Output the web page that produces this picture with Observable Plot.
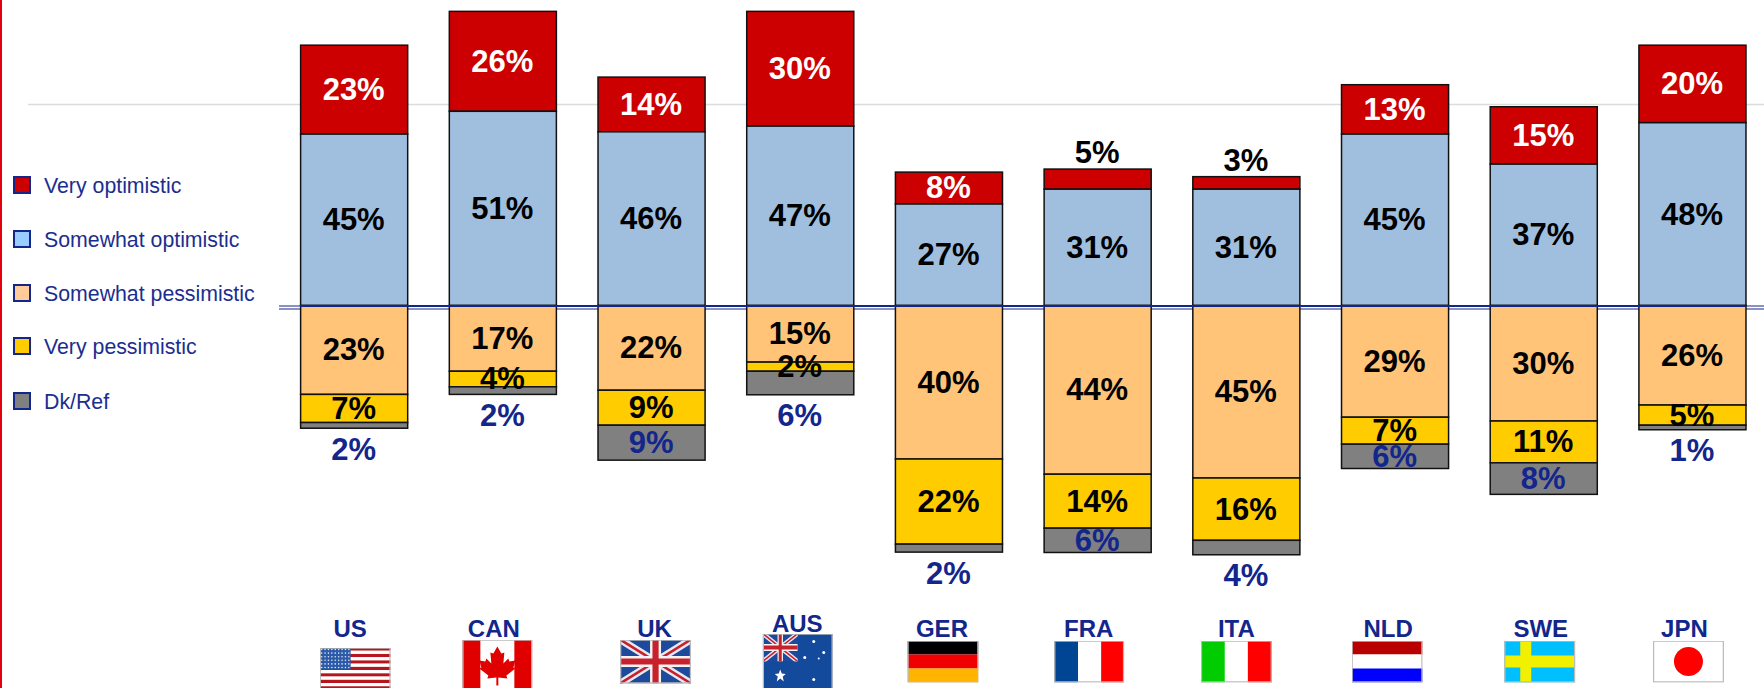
<!DOCTYPE html>
<html>
<head>
<meta charset="utf-8">
<script src="https://cdn.jsdelivr.net/npm/d3@7"></script>
<script src="https://cdn.jsdelivr.net/npm/@observablehq/plot@0.6"></script>
<style>
  html, body { margin: 0; padding: 0; background: #fff; overflow: hidden; }
  #page { position: relative; width: 1764px; height: 688px; overflow: hidden; }
  #page svg { display: block; position: absolute; left: 0; top: 0; }
  #edge { position: absolute; left: 0; top: 0; width: 1.5px; height: 688px; background: #e3000f; }
  .lg { position: absolute; left: 13px; height: 14px; width: 14px; border: 2px solid #12268c; }
  .lt { position: absolute; left: 44px; font: 21.3px "Liberation Sans", Arial, sans-serif; color: #1b2e8f; line-height: 22px; white-space: nowrap; }
</style>
</head>
<body>
<div id="page"><div id="edge"></div></div>
<script>
const countries = ["US", "CAN", "UK", "AUS", "GER", "FRA", "ITA", "NLD", "SWE", "JPN"];
const seriesNames = ["Very optimistic", "Somewhat optimistic", "Somewhat pessimistic", "Very pessimistic", "Dk/Ref"];
const veryOptimistic =      [23.4, 26.3, 14.4, 30.2,  8.4,  5.3,  3.3, 13.0, 15.1, 20.4];
const somewhatOptimistic =  [45.1, 51.1, 45.7, 47.2, 26.7, 30.6, 30.6, 45.1, 37.2, 48.1];
const somewhatPessimistic = [23.4, 17.3, 22.3, 14.9, 40.4, 44.4, 45.4, 29.4, 30.4, 26.2];
const veryPessimistic =     [ 7.4,  4.1,  9.2,  2.4, 22.4, 14.2, 16.4,  7.1, 11.0,  5.3];
const dkRef =               [ 1.5,  2.0,  9.2,  6.2,  2.1,  6.4,  3.8,  6.4,  8.3,  1.2];

// Signed table for the diverging stack
const rows = countries.flatMap((country, i) => [
  {country, series: seriesNames[0], value: veryOptimistic[i]},
  {country, series: seriesNames[1], value: somewhatOptimistic[i]},
  {country, series: seriesNames[2], value: -somewhatPessimistic[i]},
  {country, series: seriesNames[3], value: -veryPessimistic[i]},
  {country, series: seriesNames[4], value: -dkRef[i]}
]);

const NAVY = "#12268c";
const barColors = ["#cc0000", "#a0bfdf", "#ffc477", "#ffcc00", "#808080"];
const swatchColors = ["#cc0000", "#99ccff", "#ffcc99", "#ffcc00", "#808080"];
const stackOrder = [seriesNames[1], seriesNames[0], seriesNames[2], seriesNames[3], seriesNames[4]];
const pct = d => `${Math.round(Math.abs(d.value))}%`;
const FONT = "Liberation Sans, Arial, sans-serif";

const page = document.getElementById("page");

// Flags (decorative pictures)
const svgUri = (w, h, body) => "data:image/svg+xml," + encodeURIComponent(
  `<svg xmlns="http://www.w3.org/2000/svg" viewBox="0 0 ${w} ${h}" width="${w}" height="${h}" preserveAspectRatio="none">${body}<rect x=".5" y=".5" width="${w-1}" height="${h-1}" fill="none" stroke="#bbb" stroke-width="1.5"/></svg>`);
const union = (w, h) => `<rect width="${w}" height="${h}" fill="#1d4a9c"/>
  <path d="M0 0L${w} ${h}M${w} 0L0 ${h}" stroke="#e8e8ee" stroke-width="${h*0.17}"/>
  <path d="M0 0L${w} ${h}M${w} 0L0 ${h}" stroke="#c8202c" stroke-width="${h*0.06}"/>
  <path d="M${w/2} 0V${h}M0 ${h/2}H${w}" stroke="#f4f4f4" stroke-width="${h*0.25}"/>
  <path d="M${w/2} 0V${h}M0 ${h/2}H${w}" stroke="#c8202c" stroke-width="${h*0.14}"/>`;
const flagArt = {
  US: [71, 42, d3.range(13).map(i => `<rect y="${i*3.23}" width="71" height="3.23" fill="${i%2?"#fff":"#b5161e"}"/>`).join("") +
      `<rect width="31" height="22" fill="#2b5aa8"/>` +
      d3.cross(d3.range(9), d3.range(6)).map(([a,b]) => `<circle cx="${2+a*3.4}" cy="${2+b*3.6}" r=".8" fill="#dfe6f5"/>`).join("")],
  CAN: [70, 50, `<rect width="70" height="50" fill="#fff"/><rect width="18" height="50" fill="#e00000"/><rect x="52" width="18" height="50" fill="#e00000"/>
      <path fill="#e00000" d="M35 7l4 7 3-1-1 11 5-5 1 3 6-1-2 7 2 1-9 7 1 3-9-1v8h-2v-8l-9 1 1-3-9-7 2-1-2-7 6 1 1-3 5 5-1-11 3 1z"/>`],
  UK: [71, 44, union(71, 44)],
  AUS: [70, 56, `<rect width="70" height="56" fill="#144a9b"/><svg width="35" height="28" viewBox="0 0 71 44" preserveAspectRatio="none">${union(71,44)}</svg>
      <path fill="#fff" d="M17.5 36l1.5 4 4 .5-3 2.5 1 5-3.500-3-3.500 3 1-5-3-2.500 4-.5z"/>
      <circle cx="51" cy="8" r="1.500" fill="#fff"/><circle cx="61" cy="19" r="1.500" fill="#fff"/><circle cx="42" cy="24" r="1.500" fill="#fff"/><circle cx="51" cy="46" r="1.500" fill="#fff"/><circle cx="56" cy="25" r="1" fill="#fff"/>`],
  GER: [71, 42, `<rect width="71" height="14" fill="#000"/><rect y="14" width="71" height="14" fill="#f00000"/><rect y="28" width="71" height="14" fill="#ffb400"/>`],
  FRA: [70, 42, `<rect width="24" height="42" fill="#004494"/><rect x="24" width="23" height="42" fill="#fff"/><rect x="47" width="23" height="42" fill="#ff0000"/>`],
  ITA: [71, 42, `<rect width="24" height="42" fill="#00cc00"/><rect x="24" width="23" height="42" fill="#fff"/><rect x="47" width="24" height="42" fill="#ff0000"/>`],
  NLD: [71, 42, `<rect width="71" height="14" fill="#b90000"/><rect y="14" width="71" height="14" fill="#fff"/><rect y="28" width="71" height="14" fill="#0000ff"/>`],
  SWE: [71, 42, `<rect width="71" height="42" fill="#00bfff"/><rect x="16" width="11" height="42" fill="#f0f000"/><rect y="15" width="71" height="12" fill="#f0f000"/>`],
  JPN: [71, 42, `<rect width="71" height="42" fill="#fff"/><ellipse cx="35.500" cy="21" rx="14.500" ry="14.500" fill="#ff0000"/>`]
};
// Where each flag and its name sit: the pictures are not aligned to the bars in the reference
const place = {
  US:  {lx: -4.5, ly: 629, fx: 0.5,  fy: 647},
  CAN: {lx: -9.5, ly: 629, fx: -6, fy: 639},
  UK:  {lx: 2.5,  ly: 629, fx: 3.5,  fy: 639},
  AUS: {lx: -3.5, ly: 624, fx: -3, fy: 633},
  GER: {lx: -7.5, ly: 629, fx: -6.5, fy: 640},
  FRA: {lx: -9.5, ly: 629, fx: -9, fy: 640},
  ITA: {lx: -10.5, ly: 629, fx: -10.5, fy: 640},
  NLD: {lx: -7.5, ly: 629, fx: -8.5, fy: 640},
  SWE: {lx: -3.5, ly: 629, fx: -4.5, fy: 640},
  JPN: {lx: -8.5, ly: 629, fx: -4.5, fy: 640}
};
const flagMarks = countries.flatMap(c => {
  const [w, h, art] = flagArt[c], p = place[c];
  return [
    Plot.image([c], {x: d => d, src: svgUri(w, h, art), width: w, height: h, frameAnchor: "top", dx: p.fx, dy: p.fy + h / 2, preserveAspectRatio: "none"}),
    Plot.text([c], {x: d => d, text: d => d, frameAnchor: "top", lineAnchor: "middle", dx: p.lx, dy: p.ly,
      fill: NAVY, fontFamily: FONT, fontWeight: "bold", fontSize: 24})
  ];
});

const label = (test, stack, fill, dy = 0) => Plot.text(rows, Plot.filter(test, stack({order: stackOrder}, {
  x: "country", y: "value", z: "series", text: pct, fill, dy: dy, dx: -1,
  fontFamily: FONT, fontWeight: "bold", fontSize: 31, lineAnchor: "middle"
})));

const isRed = d => d.series === seriesNames[0];
const isGrey = d => d.series === seriesNames[4];
const smallRed = d => isRed(d) && d.value < 6;
const smallGrey = d => isGrey(d) && -d.value < 6.3;

const chart = Plot.plot({
  width: 1764,
  height: 688,
  margin: 0,
  style: {background: "transparent", overflow: "hidden"},
  x: {type: "band", domain: countries, range: [279.8, 1766.8], paddingInner: 0.28, paddingOuter: 0.14, round: false, axis: null},
  y: {domain: [-100.66, 80.39], range: [688, 0], axis: null},
  color: {domain: seriesNames, range: barColors},
  marks: [
    Plot.ruleY([53], {stroke: "#dcdcdc", strokeWidth: 1.5, insetLeft: 28}),
    Plot.ruleY([0], {stroke: NAVY, strokeWidth: 1.2, insetLeft: 279, dy: 3}),
    Plot.ruleY([0], {stroke: NAVY, strokeWidth: 1.2, insetLeft: 279}),
    Plot.barY(rows, Plot.stackY({order: stackOrder}, {x: "country", y: "value", z: "series", fill: "series", stroke: "#111", strokeWidth: 1.5})),
    Plot.ruleY([0], {stroke: NAVY, strokeWidth: 2, insetLeft: 300, insetRight: 19}),
    label(d => !isRed(d) && !isGrey(d), Plot.stackY, "#000"),
    label(d => isRed(d) && !smallRed(d), Plot.stackY, "#fff"),
    label(smallRed, Plot.stackY2, "#000", -16),
    label(d => isGrey(d) && !smallGrey(d), Plot.stackY, NAVY),
    label(smallGrey, Plot.stackY2, NAVY, 21),
    ...flagMarks
  ]
});
page.appendChild(chart);

// Legend
const legendY = [186, 240, 294, 347, 402];
seriesNames.forEach((name, i) => {
  const box = document.createElement("div");
  box.className = "lg";
  box.style.top = `${legendY[i] - 10}px`;
  box.style.background = swatchColors[i];
  page.appendChild(box);
  const t = document.createElement("div");
  t.className = "lt";
  t.style.top = `${legendY[i] - 11}px`;
  t.textContent = name;
  page.appendChild(t);
});
</script>
</body>
</html>
